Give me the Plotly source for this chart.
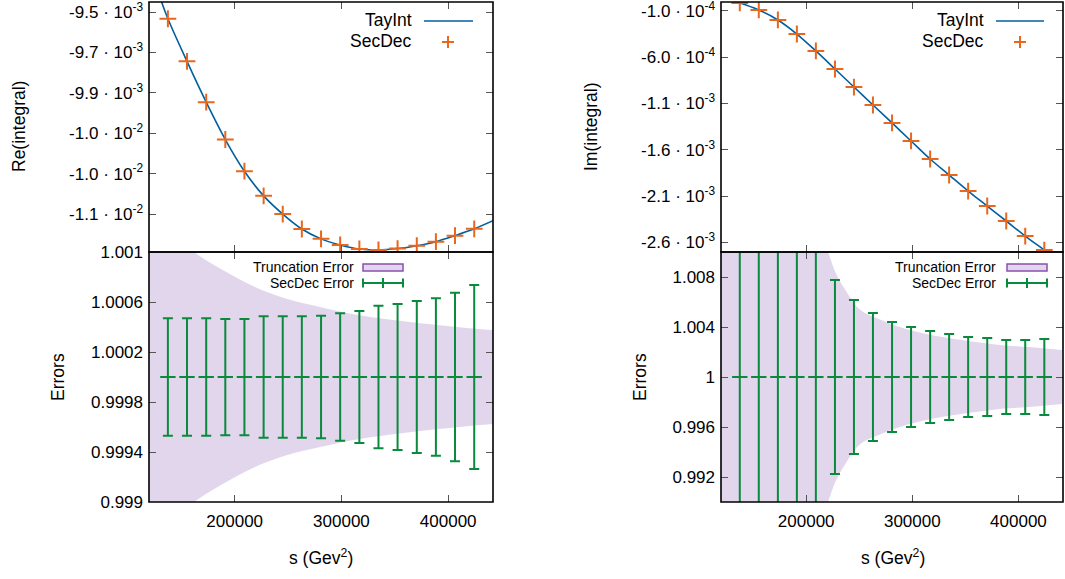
import plotly.graph_objects as go

# ---------------- data ----------------
s_pts = [137400, 155300, 173300, 191200, 209100, 227100, 245000, 262900, 280900,
         298800, 316800, 334700, 352600, 370600, 388500, 406400, 424400]

re_secdec = [-0.009533, -0.009744, -0.009946, -0.010131, -0.010288, -0.010410,
             -0.010500, -0.010574, -0.010623, -0.010653, -0.010673, -0.010678,
             -0.010671, -0.010657, -0.010637, -0.010607, -0.010573]
tay_s = [131500] + s_pts + [442000]
re_tay = [-0.00945] + re_secdec + [-0.010533]

im_secdec = [-0.0000135, -0.000089, -0.000197, -0.000349, -0.000532, -0.000727,
             -0.000922, -0.001116, -0.00131, -0.001505, -0.0017, -0.001873,
             -0.002046, -0.002208, -0.00237, -0.002533, -0.002684]
im_tay = [0.000005] + im_secdec + [-0.002832]

err_re = [0.00047, 0.00047, 0.00047, 0.000465, 0.000465, 0.000485, 0.000485,
          0.000485, 0.00049, 0.00051, 0.000528, 0.00057, 0.000584, 0.000608,
          0.00063, 0.000674, 0.000736]
err_im = [0.03, 0.025, 0.02, 0.016, 0.012, 0.00776, 0.00616, 0.00512, 0.0044,
          0.004, 0.00368, 0.00344, 0.0032, 0.00312, 0.00296, 0.00296, 0.00304]

trunc_s_re = [119700, 140000, 162000, 190000, 219000, 247000, 280000, 310000,
              333000, 360000, 388000, 415000, 442000]
trunc_re = [0.0014, 0.00118, 0.001, 0.00085, 0.00072, 0.00063, 0.00056, 0.000505,
            0.000475, 0.000445, 0.000418, 0.000395, 0.000376]

trunc_s_im = [119700, 180000, 205000, 220600, 228000, 236600, 250600, 269400,
              288100, 310000, 335000, 360000, 381900, 410000, 441000]
trunc_im = [0.03, 0.02, 0.014, 0.0100, 0.0083, 0.0070, 0.0054, 0.0046, 0.0040,
            0.0035, 0.0031, 0.0028, 0.00256, 0.0024, 0.00216]

re_ticks = [-0.0095, -0.0097, -0.0099, -0.0101, -0.0103, -0.0105]
re_ticktext = ["-9.5 · 10<sup>-3</sup>", "-9.7 · 10<sup>-3</sup>", "-9.9 · 10<sup>-3</sup>",
               "-1.0 · 10<sup>-2</sup>", "-1.0 · 10<sup>-2</sup>", "-1.1 · 10<sup>-2</sup>"]
im_ticks = [-0.0001, -0.0006, -0.0011, -0.0016, -0.0021, -0.0026]
im_ticktext = ["-1.0 · 10<sup>-4</sup>", "-6.0 · 10<sup>-4</sup>", "-1.1 · 10<sup>-3</sup>",
               "-1.6 · 10<sup>-3</sup>", "-2.1 · 10<sup>-3</sup>", "-2.6 · 10<sup>-3</sup>"]
err_re_ticks = [0.999, 0.9994, 0.9998, 1.0002, 1.0006, 1.001]
err_re_ticktext = ["0.999", "0.9994", "0.9998", "1.0002", "1.0006", "1.001"]
err_im_ticks = [0.992, 0.996, 1.0, 1.004, 1.008]
err_im_ticktext = ["0.992", "0.996", "1", "1.004", "1.008"]
x_ticks = [200000, 300000, 400000]
x_ticktext = ["200000", "300000", "400000"]

# ---------------- style ----------------
W, H = 1065, 579
FONT = "Liberation Sans, Arial, Helvetica, sans-serif"
BLUE = "#00609f"
ORANGE = "#e8671c"
GREEN = "#0a8a3c"
BAND = "rgba(112,48,160,0.2)"
BANDLINE = "#8a50b0"


def px(x):
    return x / W


def py(y):
    return 1 - y / H


fig = go.Figure()

# top-left
fig.add_trace(go.Scatter(x=tay_s, y=re_tay, mode="lines", line=dict(color=BLUE, width=1.6, shape="spline"),
                         xaxis="x", yaxis="y", hoverinfo="skip"))
fig.add_trace(go.Scatter(x=s_pts, y=re_secdec, mode="markers",
                         marker=dict(symbol="cross-thin", size=12, line=dict(color=ORANGE, width=2)),
                         xaxis="x", yaxis="y"))
# bottom-left band
fig.add_trace(go.Scatter(x=trunc_s_re, y=[1 - d for d in trunc_re], mode="lines",
                         line=dict(width=0, shape="spline"), xaxis="x2", yaxis="y2", hoverinfo="skip"))
fig.add_trace(go.Scatter(x=trunc_s_re, y=[1 + d for d in trunc_re], mode="lines", fill="tonexty",
                         fillcolor=BAND, line=dict(width=0, shape="spline"), xaxis="x2", yaxis="y2",
                         hoverinfo="skip"))
fig.add_trace(go.Scatter(x=s_pts, y=[1.0] * len(s_pts), mode="markers",
                         marker=dict(symbol="line-ew", size=11, line=dict(color=GREEN, width=2)),
                         error_y=dict(type="data", array=err_re, symmetric=True, color=GREEN,
                                      thickness=2, width=5),
                         xaxis="x2", yaxis="y2"))
# top-right
fig.add_trace(go.Scatter(x=tay_s, y=im_tay, mode="lines", line=dict(color=BLUE, width=1.6, shape="spline"),
                         xaxis="x3", yaxis="y3", hoverinfo="skip"))
fig.add_trace(go.Scatter(x=s_pts, y=im_secdec, mode="markers",
                         marker=dict(symbol="cross-thin", size=12, line=dict(color=ORANGE, width=2)),
                         xaxis="x3", yaxis="y3"))
# bottom-right band
fig.add_trace(go.Scatter(x=trunc_s_im, y=[1 - d for d in trunc_im], mode="lines",
                         line=dict(width=0, shape="spline"), xaxis="x4", yaxis="y4", hoverinfo="skip"))
fig.add_trace(go.Scatter(x=trunc_s_im, y=[1 + d for d in trunc_im], mode="lines", fill="tonexty",
                         fillcolor=BAND, line=dict(width=0, shape="spline"), xaxis="x4", yaxis="y4",
                         hoverinfo="skip"))
fig.add_trace(go.Scatter(x=s_pts, y=[1.0] * len(s_pts), mode="markers",
                         marker=dict(symbol="line-ew", size=11, line=dict(color=GREEN, width=2)),
                         error_y=dict(type="data", array=err_im, symmetric=True, color=GREEN,
                                      thickness=2, width=5),
                         xaxis="x4", yaxis="y4"))

xl = [px(149), px(493)]
xr = [px(721), px(1063)]
ytop = [py(252), py(2)]
ybot = [py(502), py(252)]

common = dict(showline=False, mirror="ticks", ticks="inside", automargin=False,
              ticklabeloverflow="allow",
              ticklen=7, tickwidth=1, tickcolor="#555555", showgrid=False, zeroline=False,
              tickfont=dict(family=FONT, size=17, color="black"))

XR = [119700, 442000]

fig.update_layout(
    width=W, height=H, margin=dict(l=0, r=0, t=0, b=0, autoexpand=False),
    paper_bgcolor="white", plot_bgcolor="white", showlegend=False,
    font=dict(family=FONT, color="black"),
    xaxis=dict(domain=xl, anchor="y", range=XR, tickvals=x_ticks, ticktext=x_ticktext,
               showticklabels=False, **common),
    yaxis=dict(domain=ytop, anchor="x", range=[-0.010688, -0.00945], tickvals=re_ticks,
               ticktext=re_ticktext, ticklabelstandoff=5, **common),
    xaxis2=dict(domain=xl, anchor="y2", range=XR, tickvals=x_ticks, ticktext=x_ticktext,
                ticklabelstandoff=7, **common),
    yaxis2=dict(domain=ybot, anchor="x2", range=[0.999, 1.001], tickvals=err_re_ticks,
                ticktext=err_re_ticktext, ticklabelstandoff=5, **common),
    xaxis3=dict(domain=xr, anchor="y3", range=XR, tickvals=x_ticks, ticktext=x_ticktext,
                showticklabels=False, **common),
    yaxis3=dict(domain=ytop, anchor="x3", range=[-0.002705, -0.000003], tickvals=im_ticks,
                ticktext=im_ticktext, ticklabelstandoff=5, **common),
    xaxis4=dict(domain=xr, anchor="y4", range=XR, tickvals=x_ticks, ticktext=x_ticktext,
                ticklabelstandoff=7, **common),
    yaxis4=dict(domain=ybot, anchor="x4", range=[0.99, 1.01], tickvals=err_im_ticks,
                ticktext=err_im_ticktext, ticklabelstandoff=5, **common),
)

annotations = []
shapes = []

# panel frames
for xa, ya in [("x", "y"), ("x2", "y2"), ("x3", "y3"), ("x4", "y4")]:
    shapes.append(dict(type="rect", xref=xa + " domain", yref=ya + " domain", x0=0, x1=1, y0=0, y1=1,
                       line=dict(color="black", width=1.6), fillcolor="rgba(0,0,0,0)", layer="above"))


def text(x, y, t, size=17.5, angle=0, xanchor="center"):
    annotations.append(dict(x=px(x), y=py(y), xref="paper", yref="paper", text=t, showarrow=False,
                            textangle=angle, xanchor=xanchor, yanchor="middle",
                            font=dict(family=FONT, size=size, color="black")))


def line(x0, y0, x1, y1, color, width):
    shapes.append(dict(type="line", xref="paper", yref="paper", x0=px(x0), y0=py(y0), x1=px(x1),
                       y1=py(y1), line=dict(color=color, width=width)))


# axis titles
text(19, 127, "Re(integral)", angle=-90)
text(58, 377, "Errors", angle=-90)
text(591, 127, "Im(integral)", angle=-90)
text(640, 377, "Errors", angle=-90)
text(321, 557, "s (Gev<sup>2</sup>)")
text(893, 557, "s (Gev<sup>2</sup>)")

# top legends
for tx, lx0, lx1, cx in [(414, 424, 473, 448), (986, 996, 1044, 1020)]:
    text(tx, 20, "TayInt", xanchor="right")
    text(tx, 41, "SecDec", xanchor="right")
    line(lx0, 21, lx1, 21, BLUE, 1.6)
    line(cx - 6, 42, cx + 6, 42, ORANGE, 2)
    line(cx, 36, cx, 48, ORANGE, 2)

# bottom legends
for tx, bx0, bx1 in [(356, 363, 403), (998, 1007, 1047)]:
    text(tx, 267, "Truncation Error", size=14, xanchor="right")
    text(tx, 283, "SecDec Error", size=14, xanchor="right")
    shapes.append(dict(type="rect", xref="paper", yref="paper", x0=px(bx0), x1=px(bx1),
                       y0=py(271), y1=py(264), fillcolor=BAND, line=dict(color=BANDLINE, width=1.5)))
    cy = 283
    line(bx0, cy, bx1, cy, GREEN, 2)
    line(bx0, cy - 4.5, bx0, cy + 4.5, GREEN, 2)
    line(bx1, cy - 4.5, bx1, cy + 4.5, GREEN, 2)
    cx = (bx0 + bx1) / 2
    line(cx, cy - 5, cx, cy + 5, GREEN, 2)

fig.update_layout(annotations=annotations, shapes=shapes)

fig.write_html("out.html", config={"displayModeBar": False},
               post_script="document.body.style.margin='0px';document.body.style.overflow='hidden';")
